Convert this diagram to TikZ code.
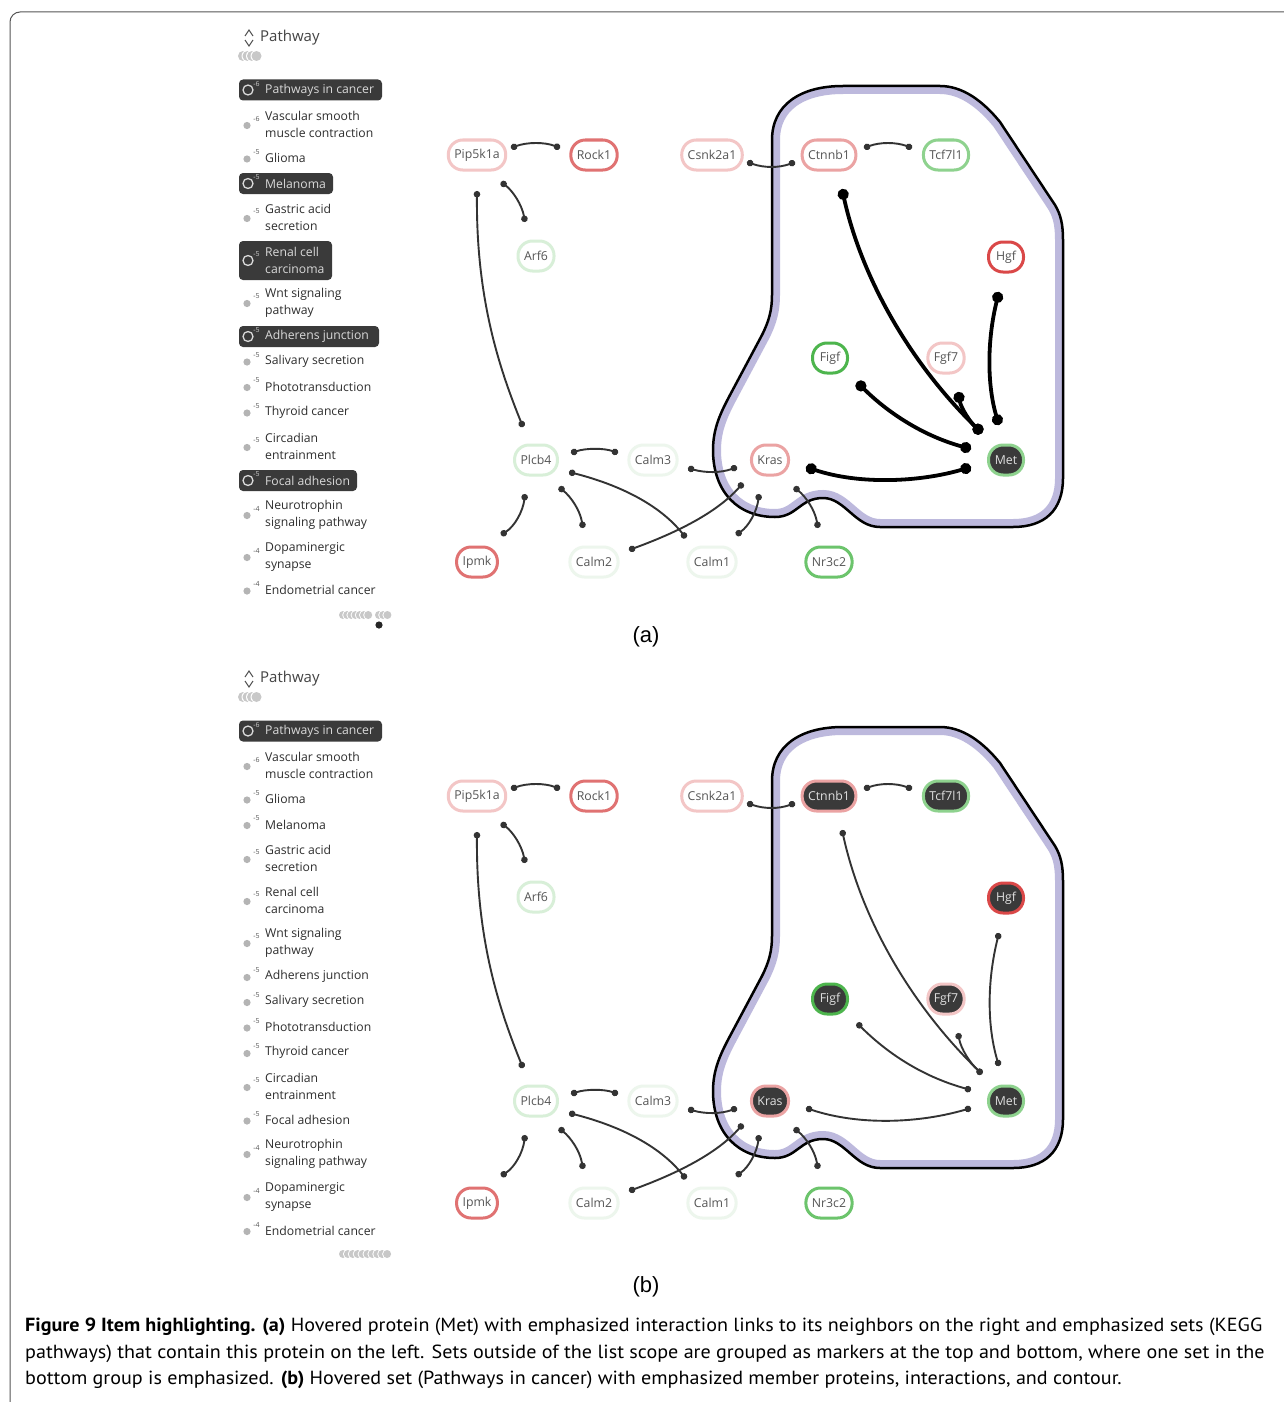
\documentclass[tikz,border=0pt]{standalone}
\usepackage{fontspec}
\setmainfont{Open Sans}
\newfontfamily\capfont[FakeStretch=1.058]{PT Sans}
\newfontfamily\lblfont{Liberation Sans}
\usetikzlibrary{arrows.meta,calc}
\definecolor{pinkL}{HTML}{F3C6C6}
\definecolor{pinkM}{HTML}{EBA3A3}
\definecolor{redM}{HTML}{E07272}
\definecolor{redS}{HTML}{DA4848}
\definecolor{greenS}{HTML}{4DB54D}
\definecolor{greenN}{HTML}{6CC46C}
\definecolor{greenM}{HTML}{8ED28E}
\definecolor{greenL}{HTML}{D8EFD8}
\definecolor{greenXL}{HTML}{EDF6ED}
\definecolor{darkfill}{HTML}{3A3A3A}
\definecolor{lav}{HTML}{BDB9DD}
\definecolor{edgec}{HTML}{333333}
\definecolor{txtc}{HTML}{555555}
\definecolor{listc}{HTML}{2E2E2E}
\definecolor{dotc}{HTML}{B4B4B4}
\definecolor{markc}{HTML}{C8C8C8}
\definecolor{framec}{HTML}{555555}
\tikzset{
  gn/.style={rectangle, rounded corners=14.5pt, draw, line width=3pt, fill=white,
    minimum height=30pt, minimum width=35pt, inner xsep=6pt, inner ysep=0pt,
    text=txtc, font=\fontsize{12.3}{14}\selectfont},
  aset/.style={}, bset/.style={fill=darkfill, text=white!88!black},
  lnk/.style={draw=edgec, line width=1.9pt, {Circle[length=6.5pt]}-{Circle[length=6.5pt]}},
  ahot/.style={draw=black, line width=3.8pt, {Circle[length=11pt]}-{Circle[length=11pt]}},
  bhot/.style={},
  lt/.style={anchor=west, align=left, inner sep=0pt, text=listc, font=\fontsize{12.2}{17}\selectfont},
  supt/.style={inner sep=0pt, text=txtc, font=\fontsize{7}{7}\selectfont},
  hdr/.style={anchor=west, inner sep=0pt, text=listc!90!white, font=\fontsize{15}{18}\selectfont},
  lbl/.style={inner sep=0pt, font=\lblfont\fontsize{22}{26}\selectfont},
  captxt/.style={anchor=west, inner sep=0pt, font=\capfont\fontsize{19}{23}\selectfont},
  contour/.style={insert path={(843,86+#1) -- (940,86+#1)
     .. controls (962,86+#1) and (982,100+#1) .. (1000,122+#1) -- (1055,205+#1)
     .. controls (1061,215+#1) and (1063,225+#1) .. (1063,240+#1) -- (1063,478+#1)
     .. controls (1063,510+#1) and (1045,527+#1) .. (1013,527+#1) -- (880,527+#1)
     .. controls (855,527+#1) and (845,498+#1) .. (823,498+#1)
     .. controls (800,498+#1) and (797,517+#1) .. (775,517+#1)
     .. controls (738,517+#1) and (713,492+#1) .. (713,450+#1)
     .. controls (713,428+#1) and (721,412+#1) .. (730,395+#1) -- (762,335+#1)
     .. controls (769,321+#1) and (772,310+#1) .. (772,295+#1) -- (772,140+#1)
     .. controls (772,105+#1) and (800,86+#1) .. (843,86+#1) -- cycle}},
}
\newcommand\pli[4]{%
  \fill[dotc] (247,#2+1) circle (3.6pt);
  \node[supt] (#1s) at (256.5,#2-6) {#4};
  \node[lt] (#1) at (265,#2) {#3};}
\newcommand\plh[6]{%
  \fill[darkfill, rounded corners=4pt] (239,#2-#6) rectangle (#5,#2+#6);
  \draw[white!85!black, line width=1.3pt] (248,#2) circle (5pt);
  \node[supt, text=white!80!black] (#1s) at (256.5,#2-6) {#4};
  \node[lt, text=white!85!black] (#1) at (265,#2) {#3};}
\newcommand\mk[3]{% x, y, radius
  \fill[white] (#1,#2) circle (#3pt+1pt);
  \fill[markc] (#1,#2) circle (#3pt);}
\newcommand\header[2]{%
  \draw[txtc, line width=1pt] (245,#2-2) -- (249,#2-8) -- (253,#2-2);
  \draw[txtc, line width=1pt] (245,#2+2) -- (249,#2+8) -- (253,#2+2);
  \node[hdr] (#1hdr) at (260,#2) {Pathway};}
\newcommand\graphpanel[2]{%
  \begin{scope}
    \clip[contour=#2];
    \draw[lav, line width=16pt, contour=#2];
  \end{scope}
  \draw[black, line width=2.5pt, line join=round, contour=#2];
  \node[gn, draw=pinkL] (#1pip) at (477,155+#2) {Pip5k1a};
  \node[gn, draw=redM] (#1rock) at (594,155+#2) {Rock1};
  \node[gn, draw=pinkL] (#1csnk) at (712,155+#2) {Csnk2a1};
  \node[gn, draw=pinkM, #1set] (#1ctnnb) at (829,155+#2) {Ctnnb1};
  \node[gn, draw=greenM, #1set] (#1tcf) at (946,155+#2) {Tcf7l1};
  \node[gn, draw=greenL] (#1arf) at (536,256+#2) {Arf6};
  \node[gn, draw=redS, #1set] (#1hgf) at (1006,257+#2) {Hgf};
  \node[gn, draw=greenS, #1set] (#1figf) at (830,358+#2) {Figf};
  \node[gn, draw=pinkL, #1set] (#1fgf) at (946,358+#2) {Fgf7};
  \node[gn, draw=greenL] (#1plcb) at (536,460+#2) {Plcb4};
  \node[gn, draw=greenXL] (#1calmc) at (653,460+#2) {Calm3};
  \node[gn, draw=pinkM, #1set] (#1kras) at (770,460+#2) {Kras};
  \node[gn, draw=greenM, fill=darkfill, text=white!88!black] (#1met) at (1006,460+#2) {Met};
  \node[gn, draw=redM] (#1ipmk) at (477,562+#2) {Ipmk};
  \node[gn, draw=greenXL] (#1calmb) at (594,562+#2) {Calm2};
  \node[gn, draw=greenXL] (#1calma) at (712,562+#2) {Calm1};
  \node[gn, draw=greenN] (#1nr) at (829,562+#2) {Nr3c2};
  \draw[lnk] ($(#1pip)+(34,-7)$) .. controls (527,142+#2) and (545,142+#2) .. ($(#1rock)+(-34,-7)$);
  \draw[lnk] ($(#1pip)+(24,27)$) .. controls (513,191+#2) and (522,205+#2) .. ($(#1arf)+(-11,-34)$);
  \draw[lnk] ($(#1pip)+(0,36)$) .. controls (476,300+#2) and (500,370+#2) .. ($(#1plcb)+(-13,-33)$);
  \draw[lnk] ($(#1csnk)+(35,7)$) .. controls (764,168+#2) and (779,168+#2) .. ($(#1ctnnb)+(-34,7)$);
  \draw[lnk] ($(#1ctnnb)+(35,-7)$) .. controls (880,142+#2) and (896,142+#2) .. ($(#1tcf)+(-34,-7)$);
  \draw[lnk, #1hot] ($(#1ctnnb)+(13,34)$) .. controls (862,280+#2) and (912,365+#2) .. ($(#1met)+(-24,-27)$);
  \draw[lnk, #1hot] ($(#1hgf)+(-7,35)$) .. controls (987,340+#2) and (987,385+#2) .. ($(#1met)+(-7,-35)$);
  \draw[lnk, #1hot] ($(#1fgf)+(12,34)$) .. controls (961,408+#2) and (970,422+#2) .. ($(#1met)+(-24,-27)$);
  \draw[lnk, #1hot] ($(#1figf)+(27,24)$) .. controls (885,410+#2) and (920,435+#2) .. ($(#1met)+(-35,-11)$);
  \draw[lnk, #1hot] ($(#1kras)+(36,7)$) .. controls (860,485+#2) and (920,482+#2) .. ($(#1met)+(-35,7)$);
  \draw[lnk] ($(#1plcb)+(35,-7)$) .. controls (586,448+#2) and (604,448+#2) .. ($(#1calmc)+(-35,-7)$);
  \draw[lnk] ($(#1calmc)+(35,8)$) .. controls (705,473+#2) and (721,473+#2) .. ($(#1kras)+(-33,7)$);
  \draw[lnk] ($(#1plcb)+(33,12)$) .. controls (620,485+#2) and (660,505+#2) .. ($(#1calma)+(-26,-24)$);
  \draw[lnk] ($(#1plcb)+(23,27)$) .. controls (571,497+#2) and (580,510+#2) .. ($(#1calmb)+(-11,-34)$);
  \draw[lnk] ($(#1plcb)+(-11,34)$) .. controls (523,511+#2) and (515,526+#2) .. ($(#1ipmk)+(24,-27)$);
  \draw[lnk] ($(#1kras)+(-27,23)$) .. controls (715,515+#2) and (670,535+#2) .. ($(#1calmb)+(35,-12)$);
  \draw[lnk] ($(#1kras)+(-11,34)$) .. controls (757,511+#2) and (749,526+#2) .. ($(#1calma)+(24,-27)$);
  \draw[lnk] ($(#1kras)+(24,27)$) .. controls (806,497+#2) and (815,510+#2) .. ($(#1nr)+(-11,-34)$);
}
\begin{document}
\begin{tikzpicture}[x=1pt,y=-1pt]
\useasboundingbox (0,0) rectangle (1284,1402);
\fill[white] (0,0) rectangle (1284,1402);
\draw[framec, line width=1pt, rounded corners=10pt] (10,1402) -- (10,12) -- (1284,12);

% ---------- panel (a) ----------
\header{a}{38}
\foreach \i in {0,...,3} {\mk{243+4.5*\i}{56}{5}}
\plh{apic}{90}{Pathways in cancer}{-6}{382}{10.5}
\pli{avsm}{124.5}{Vascular smooth\\muscle contraction}{-6}
\pli{agli}{158}{Glioma}{-5}
\plh{amel}{183.5}{Melanoma}{-5}{333}{10.5}
\pli{agas}{217.5}{Gastric acid\\secretion}{-5}
\plh{aren}{260.5}{Renal cell\\carcinoma}{-5}{332}{19.5}
\pli{awnt}{302.5}{Wnt signaling\\pathway}{-5}
\plh{aadh}{336.5}{Adherens junction}{-5}{379}{10.5}
\pli{asal}{361}{Salivary secretion}{-5}
\pli{apho}{386.5}{Phototransduction}{-5}
\pli{athy}{412}{Thyroid cancer}{-5}
\pli{acir}{446.5}{Circadian\\entrainment}{-5}
\plh{afoc}{480.5}{Focal adhesion}{-5}{357}{10.5}
\pli{aneu}{514.5}{Neurotrophin\\signaling pathway}{-4}
\pli{adop}{556.5}{Dopaminergic\\synapse}{-4}
\pli{aend}{590}{Endometrial cancer}{-4}
\foreach \i in {0,...,6} {\mk{343+4.2*\i}{615}{4}}
\foreach \i in {0,...,2} {\mk{379+4.2*\i}{615}{4}}
\fill[black!85] (379,625) circle (3.6pt);
\graphpanel{a}{0}
\node[lbl] (alab) at (646,637) {(a)};

% ---------- panel (b) ----------
\header{b}{679}
\foreach \i in {0,...,3} {\mk{243+4.5*\i}{697}{5}}
\plh{bpic}{731}{Pathways in cancer}{-6}{382}{10.5}
\pli{bvsm}{765.5}{Vascular smooth\\muscle contraction}{-6}
\pli{bgli}{799}{Glioma}{-5}
\pli{bmel}{824.5}{Melanoma}{-5}
\pli{bgas}{858.5}{Gastric acid\\secretion}{-5}
\pli{bren}{900.5}{Renal cell\\carcinoma}{-5}
\pli{bwnt}{942.5}{Wnt signaling\\pathway}{-5}
\pli{badh}{976.5}{Adherens junction}{-5}
\pli{bsal}{1001.5}{Salivary secretion}{-5}
\pli{bpho}{1027}{Phototransduction}{-5}
\pli{bthy}{1052.5}{Thyroid cancer}{-5}
\pli{bcir}{1086.5}{Circadian\\entrainment}{-5}
\pli{bfoc}{1120}{Focal adhesion}{-5}
\pli{bneu}{1153.5}{Neurotrophin\\signaling pathway}{-4}
\pli{bdop}{1196.5}{Dopaminergic\\synapse}{-4}
\pli{bend}{1230.5}{Endometrial cancer}{-4}
\foreach \i in {0,...,9} {\mk{343+4.9*\i}{1254}{4}}
\graphpanel{b}{641}
\node[lbl] (blab) at (646,1287) {(b)};

% ---------- caption ----------
\node[captxt] (cap1) at (25,1327) {\textbf{Figure 9 Item highlighting. (a)} Hovered protein (Met) with emphasized interaction links to its neighbors on the right and emphasized sets (KEGG};
\node[captxt] (cap2) at (25,1354) {pathways) that contain this protein on the left. Sets outside of the list scope are grouped as markers at the top and bottom, where one set in the};
\node[captxt] (cap3) at (25,1380) {bottom group is emphasized. \textbf{(b)} Hovered set (Pathways in cancer) with emphasized member proteins, interactions, and contour.};
\end{tikzpicture}
\end{document}
